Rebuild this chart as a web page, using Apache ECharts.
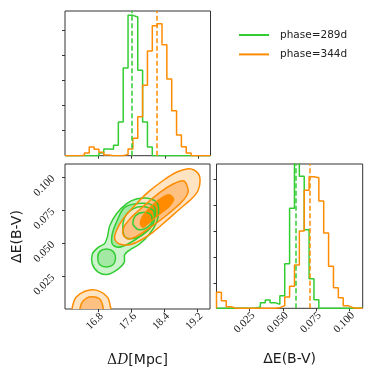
<!DOCTYPE html>
<html>
<head>
<meta charset="utf-8">
<script src="https://cdn.jsdelivr.net/npm/echarts@6/dist/echarts.min.js"></script>
<style>
html,body{margin:0;padding:0;background:#fff;}
#main{width:374px;height:374px;}
</style>
</head>
<body>
<div id="main"></div>
<script>
// histogram ranges, 30 bins each
const dRange = [16.0, 19.5];
const eRange = [0, 0.11];
const nBins = 30;

// counts per bin (arbitrary units)
const dHist289 = [0,0,0,0,0,0,0,8,20,19,31,101,263,421,416,256,101,26,0,0,0,0,0,0,0,0,0,0,0,0];
const dHist344 = [0,0,0,1,8,26,19,10,2,0,0,0,4,20,52,117,211,314,390,396,333,230,135,62,27,8,0,0,0,0];
const eHist289 = [0,0,0,0,0,0,0,0,4,17,25,17,12,38,134,300,460,396,236,89,26,0,0,0,0,0,0,0,0,0];
const eHist344 = [48,23,5,0,0,0,0,0,0,0,0,0,2,8,34,66,130,232,354,395,392,322,226,126,62,32,8,2,0,0];
const dMedian = [17.60, 18.21];
const eMedian = [0.0620, 0.0732];

const dTicks = [16.8, 17.6, 18.4, 19.2];
const eTicks = [0.025, 0.05, 0.075, 0.1];
const topCountTicks = [75, 150, 226, 302, 377];
const rightCountTicks = [75, 153, 232, 310, 387];
const topMax = 434;
const rightMax = 433;

// contour outlines, [ΔD, ΔE]
const g289Lvl1 = [[17.72,0.0834],[18.00,0.0840],[18.21,0.0809],[18.26,0.0746],[18.21,0.0657],[18.04,0.0569],[17.80,0.0493],[17.56,0.0447],[17.44,0.0412],[17.43,0.0354],[17.28,0.0303],[17.02,0.0262],[16.80,0.0280],[16.66,0.0341],[16.66,0.0417],[16.80,0.0468],[16.96,0.0498],[17.03,0.0556],[17.08,0.0632],[17.24,0.0721],[17.48,0.0797]];
const g289Lvl2 = [[17.44,0.0771],[17.84,0.0802],[18.13,0.0784],[18.18,0.0721],[18.09,0.0632],[17.84,0.0556],[17.52,0.0493],[17.28,0.0468],[17.14,0.0493],[17.14,0.0569],[17.24,0.0657]];
const g289Blob = [[16.79,0.0387],[16.84,0.0437],[17.00,0.0455],[17.16,0.0437],[17.22,0.0387],[17.16,0.0336],[17.00,0.0319],[16.84,0.0336]];
const g289Lvl3 = [[17.40,0.0594],[17.44,0.0695],[17.64,0.0759],[17.92,0.0776],[18.13,0.0746],[18.15,0.0670],[18.00,0.0594],[17.72,0.0539],[17.48,0.0539]];
const g289Lvl4 = [[17.64,0.0645],[17.70,0.0708],[17.88,0.0733],[18.07,0.0716],[18.10,0.0665],[17.99,0.0619],[17.78,0.0602]];

const o344Lvl1 = [[19.01,0.1064],[19.21,0.1029],[19.26,0.0973],[19.21,0.0897],[19.05,0.0834],[18.77,0.0759],[18.45,0.0670],[18.12,0.0582],[17.80,0.0518],[17.56,0.0488],[17.32,0.0493],[17.20,0.0531],[17.24,0.0594],[17.40,0.0683],[17.68,0.0784],[18.00,0.0885],[18.36,0.0973],[18.69,0.1037]];
const o344Lvl2 = [[18.93,0.0948],[18.97,0.0885],[18.81,0.0809],[18.49,0.0721],[18.12,0.0632],[17.76,0.0556],[17.52,0.0531],[17.40,0.0569],[17.44,0.0632],[17.64,0.0708],[17.96,0.0797],[18.29,0.0885],[18.61,0.0948],[18.85,0.0973]];
const o344Lvl3 = [[18.51,0.0867],[18.62,0.0834],[18.53,0.0784],[18.29,0.0721],[18.04,0.0658],[17.88,0.0620],[17.82,0.0650],[17.87,0.0700],[18.04,0.0766],[18.29,0.0834]];
const o344Blob1 = [[16.20,-0.0025],[16.22,0.0063],[16.36,0.0114],[16.60,0.0144],[16.84,0.0134],[17.03,0.0088],[17.09,0.0025],[17.10,-0.0025]];
const o344Blob2 = [[16.38,-0.0025],[16.40,0.0043],[16.52,0.0083],[16.68,0.0093],[16.84,0.0076],[16.91,0.0025],[16.91,-0.0025]];

const GREEN = '#32cd32';
const ORANGE = '#ff8c00';
const greenShapes = [
    {pts: g289Lvl1, fill: '#ccf3cc'},
    {pts: g289Lvl2, fill: '#a3e8a3'},
    {pts: g289Blob, fill: '#a3e8a3'},
    {pts: g289Lvl3, fill: '#74dc74'},
    {pts: g289Lvl4, fill: '#4fd24f'}
];
const orangeShapes = [
    {pts: o344Lvl1, fill: '#ffe4c4'},
    {pts: o344Lvl2, fill: '#ffc182'},
    {pts: o344Lvl3, fill: '#ff8c00'},
    {pts: o344Blob1, fill: '#ffe4c4'},
    {pts: o344Blob2, fill: '#ffc182'}
];

function stepData(counts, range) {
    const w = (range[1] - range[0]) / nBins;
    const out = [[range[0], 0]];
    counts.forEach((c, i) => out.push([range[0] + i * w, c]));
    out.push([range[1], 0]);
    return out;
}

function histSeries(name, counts, range, median, color, gi) {
    return {
        type: 'line', name: name, xAxisIndex: gi, yAxisIndex: gi,
        step: 'end', symbol: 'none', clip: true, silent: true,
        data: stepData(counts, range),
        lineStyle: {color: color, width: 1.5},
        itemStyle: {color: color},
        markLine: {
            silent: true, symbol: 'none', label: {show: false},
            lineStyle: {color: color, width: 1.5, type: [5, 2.5]},
            data: [{xAxis: median}]
        }
    };
}

function shapeSeries(name, list, mode, color, z) {
    return {
        type: 'custom', name: name, xAxisIndex: 1, yAxisIndex: 1, clip: true, silent: true, z: z,
        data: list.map((c, i) => [c.pts[0][0], c.pts[0][1], i]),
        renderItem: function (params, api) {
            const c = list[api.value(2)];
            const points = c.pts.map(p => api.coord(p));
            return {
                type: 'polygon',
                shape: {points: points, smooth: 0.3},
                style: mode === 'fill'
                    ? {fill: c.fill, stroke: null}
                    : {fill: null, stroke: color, lineWidth: 1.5}
            };
        }
    };
}

const tickStyle = {lineStyle: {color: '#333', width: 1}, length: 3};
const labelFont = {fontFamily: 'Liberation Serif', fontSize: 11, color: '#1a1a1a'};
const nameFont = {fontFamily: 'DejaVu Sans', fontSize: 14, color: '#1a1a1a'};

const chart = echarts.init(document.getElementById('main'), null, {renderer: 'canvas'});
chart.setOption({
    animation: false,
    grid: [
        {left: 65, top: 11, width: 145.5, height: 144.7, show: true, borderColor: '#333', borderWidth: 1, backgroundColor: 'transparent'},
        {left: 65, top: 164, width: 145, height: 145, show: true, borderColor: '#333', borderWidth: 1, backgroundColor: 'transparent'},
        {left: 216.5, top: 164, width: 146.2, height: 144.3, show: true, borderColor: '#333', borderWidth: 1, backgroundColor: 'transparent'}
    ],
    legend: {
        orient: 'vertical', left: 239, top: 28, padding: 0, itemWidth: 30, itemHeight: 2, itemGap: 5.4,
        icon: 'rect', selectedMode: false,
        textStyle: {fontFamily: 'DejaVu Sans', fontSize: 10.5, color: '#222', lineHeight: 14, padding: [0, 0, 0, 6]},
        data: [
            {name: 'phase=289d', itemStyle: {color: GREEN}},
            {name: 'phase=344d', itemStyle: {color: ORANGE}}
        ]
    },
    xAxis: [
        {gridIndex: 0, type: 'value', min: dRange[0], max: dRange[1],
         axisLine: {show: false}, splitLine: {show: false},
         axisTick: Object.assign({customValues: dTicks}, tickStyle),
         axisLabel: {show: false}},
        {gridIndex: 1, type: 'value', min: dRange[0], max: dRange[1],
         axisLine: {show: false}, splitLine: {show: false},
         axisTick: Object.assign({customValues: dTicks}, tickStyle),
         axisLabel: Object.assign({customValues: dTicks, rotate: 45, margin: 9, padding: [0, -5, 0, 0], formatter: v => v.toFixed(1)}, labelFont),
         name: '{m|Δ}{it|D}[Mpc]', nameLocation: 'middle', nameGap: 44,
         nameTextStyle: Object.assign({rich: {
             m: {fontFamily: 'DejaVu Serif', fontSize: 14, color: '#1a1a1a'},
             it: {fontFamily: 'DejaVu Serif', fontStyle: 'italic', fontSize: 14, color: '#1a1a1a'}
         }}, nameFont)},
        {gridIndex: 2, type: 'value', min: eRange[0], max: eRange[1],
         axisLine: {show: false}, splitLine: {show: false},
         axisTick: Object.assign({customValues: eTicks}, tickStyle),
         axisLabel: Object.assign({customValues: eTicks, rotate: 45, margin: 9, padding: [0, -5, 0, 0], formatter: v => v.toFixed(3)}, labelFont),
         name: 'ΔE(B-V)', nameLocation: 'middle', nameGap: 44, nameTextStyle: nameFont}
    ],
    yAxis: [
        {gridIndex: 0, type: 'value', min: 0, max: topMax,
         axisLine: {show: false}, splitLine: {show: false},
         axisTick: Object.assign({show: true, customValues: topCountTicks}, tickStyle),
         axisLabel: {show: false}},
        {gridIndex: 1, type: 'value', min: eRange[0], max: eRange[1],
         axisLine: {show: false}, splitLine: {show: false},
         axisTick: Object.assign({show: true, customValues: eTicks}, tickStyle),
         axisLabel: Object.assign({customValues: eTicks, rotate: 45, margin: 12, formatter: v => v.toFixed(3)}, labelFont),
         name: 'ΔE(B-V)', nameLocation: 'middle', nameGap: 41, nameTextStyle: nameFont},
        {gridIndex: 2, type: 'value', min: 0, max: rightMax,
         axisLine: {show: false}, splitLine: {show: false},
         axisTick: Object.assign({show: true, customValues: rightCountTicks}, tickStyle),
         axisLabel: {show: false}}
    ],
    series: [
        histSeries('phase=289d', dHist289, dRange, dMedian[0], GREEN, 0),
        histSeries('phase=344d', dHist344, dRange, dMedian[1], ORANGE, 0),
        shapeSeries('phase=289d', greenShapes, 'fill', GREEN, 1),
        shapeSeries('phase=344d', orangeShapes, 'fill', ORANGE, 2),
        shapeSeries('phase=289d', greenShapes, 'line', GREEN, 3),
        shapeSeries('phase=344d', orangeShapes, 'line', ORANGE, 4),
        histSeries('phase=289d', eHist289, eRange, eMedian[0], GREEN, 2),
        histSeries('phase=344d', eHist344, eRange, eMedian[1], ORANGE, 2)
    ]
});
</script>
</body>
</html>
